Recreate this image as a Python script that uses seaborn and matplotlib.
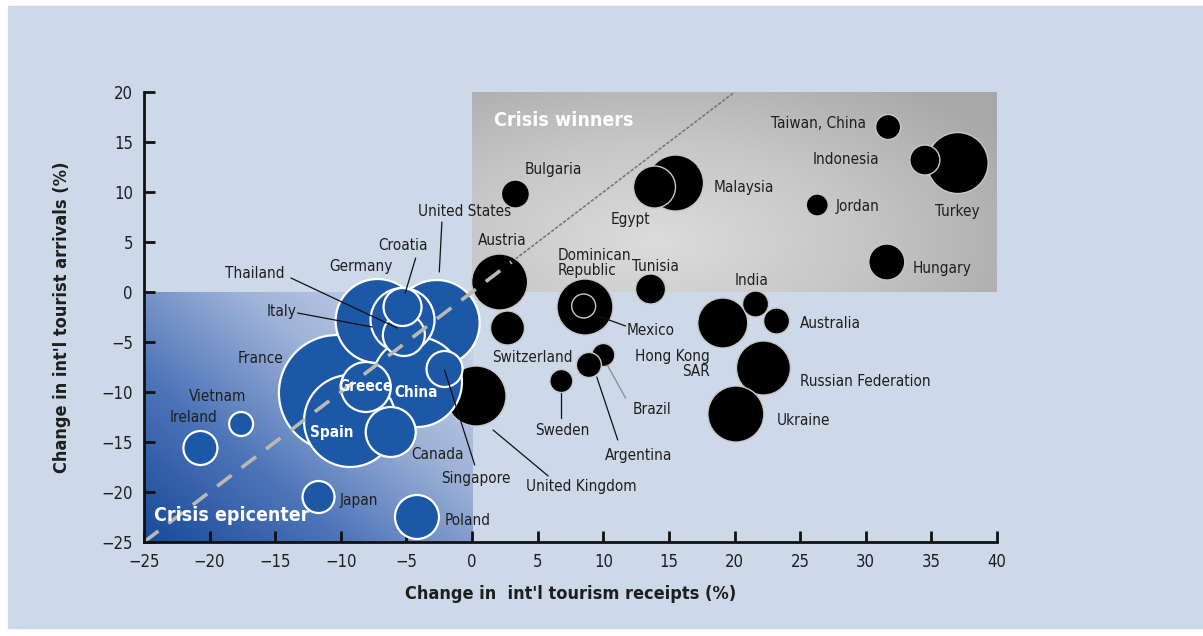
import numpy as np
import pandas as pd
import seaborn as sns
import matplotlib.pyplot as plt
from matplotlib import font_manager
from matplotlib.colors import LinearSegmentedColormap
from matplotlib.patches import Rectangle

# --- Dados ---
# países fora do epicentro (bolhas pretas), na ordem de desenho
black_names = ["Malaysia", "Egypt", "Turkey", "Indonesia", "Taiwan, China", "Bulgaria",
               "Jordan", "Hungary", "Austria", "Tunisia", "Switzerland",
               "Dominican Republic", "Mexico", "Hong Kong SAR", "India", "Australia",
               "Russian Federation", "Ukraine", "Brazil", "Argentina", "Sweden",
               "United Kingdom"]
black_receipts = [15.5, 13.9, 37.0, 34.5, 31.7, 3.3, 26.3, 31.6, 2.1, 13.6, 2.7,
                  8.6, 8.5, 19.1, 21.6, 23.2, 22.2, 20.1, 10.0, 8.9, 6.8, 0.3]
black_arrivals = [10.9, 10.5, 12.9, 13.2, 16.5, 9.8, 8.7, 3.0, 1.0, 0.3, -3.6,
                  -1.5, -1.4, -3.1, -1.2, -2.9, -7.6, -12.2, -6.3, -7.3, -8.9, -10.4]
black_bubble = [28, 21, 30.5, 15, 12.5, 14, 11, 18, 28, 15, 17,
                28, 12, 25, 13, 13, 27, 28, 11.5, 12.5, 11.5, 30]

# países do epicentro (bolhas azuis), na ordem de desenho
blue_names = ["France", "Germany", "United States", "China", "Spain", "Greece", "Canada",
              "Singapore", "Italy", "Thailand", "Croatia", "Vietnam", "Ireland",
              "Japan", "Poland"]
blue_receipts = [-10.3, -7.2, -2.7, -4.2, -9.3, -8.1, -6.2, -2.1, -5.3, -5.2, -5.3,
                 -17.6, -20.7, -11.7, -4.2]
blue_arrivals = [-10.1, -2.9, -3.1, -9.0, -12.9, -9.5, -14.0, -7.7, -2.8, -4.3, -1.5,
                 -13.2, -15.6, -20.5, -22.5]
blue_bubble = [58, 42, 43, 45, 46, 25, 25, 18, 32, 21, 19, 12, 17, 16, 22]

x_ticks = [-25, -20, -15, -10, -5, 0, 5, 10, 15, 20, 25, 30, 35, 40]
y_ticks = [-25, -20, -15, -10, -5, 0, 5, 10, 15, 20]

# --- Layout dos rótulos (x, y, alinhamento) ---
label_pos = {
    "Taiwan, China": (30.0, 16.9, "right"), "Indonesia": (31.0, 13.3, "right"),
    "Turkey": (37.0, 8.1, "center"), "Malaysia": (18.4, 10.5, "left"),
    "Egypt": (12.1, 7.3, "center"), "Bulgaria": (4.0, 12.3, "left"),
    "Jordan": (27.7, 8.6, "left"), "Hungary": (33.6, 2.4, "left"),
    "Austria": (2.3, 5.2, "center"), "Dominican\nRepublic": (6.5, 2.9, "left"),
    "Tunisia": (12.2, 2.6, "left"), "India": (21.3, 1.2, "center"),
    "Australia": (25.0, -3.1, "left"), "Mexico": (11.8, -3.8, "left"),
    "Hong Kong\nSAR": (18.1, -7.2, "right"), "Russian Federation": (25.0, -8.9, "left"),
    "Ukraine": (23.2, -12.8, "left"), "Switzerland": (4.6, -6.5, "center"),
    "Brazil": (12.2, -11.7, "left"), "Argentina": (12.7, -16.3, "center"),
    "Sweden": (6.9, -13.8, "center"), "United Kingdom": (8.3, -19.4, "center"),
    "Singapore": (0.3, -18.6, "center"), "Canada": (-2.6, -16.2, "center"),
    "Japan": (-10.1, -20.8, "left"), "Poland": (-2.1, -22.8, "left"),
    "Vietnam": (-19.4, -10.4, "center"), "Ireland": (-21.2, -12.5, "center"),
    "France": (-14.4, -6.6, "right"), "Italy": (-13.4, -1.9, "right"),
    "Thailand": (-14.3, 1.9, "right"), "Germany": (-8.5, 2.6, "center"),
    "Croatia": (-5.3, 4.7, "center"), "United States": (-0.6, 8.1, "center"),
}
white_labels = {"Greece": (-8.1, -9.4), "China": (-4.3, -10.0), "Spain": (-10.7, -14.0)}

leaders = [
    ((9.6, -2.4), (11.7, -3.4), "#111111"),
    ((10.3, -7.3), (11.7, -10.6), "#8a8a8a"),
    ((9.5, -8.5), (11.1, -14.8), "#111111"),
    ((6.8, -10.1), (6.8, -12.6), "#111111"),
    ((1.6, -13.8), (5.8, -18.4), "#111111"),
    ((-2.1, -7.8), (0.2, -17.3), "#111111"),
    ((-13.3, -2.1), (-7.6, -3.5), "#111111"),
    ((-13.8, 1.4), (-5.7, -3.6), "#111111"),
    ((-4.3, 3.4), (-5.1, -0.1), "#111111"),
    ((-2.3, 7.0), (-2.5, 2.0), "#111111"),
]

df_black = pd.DataFrame({"receipts": black_receipts, "arrivals": black_arrivals,
                         "area": np.array(black_bubble) ** 2})
df_blue = pd.DataFrame({"receipts": blue_receipts, "arrivals": blue_arrivals,
                        "area": np.array(blue_bubble) ** 2})

# --- Estilo: procura uma fonte estreita (o original usa uma condensada) ---
sns.set_style("ticks")
family, stretch = "Liberation Sans", "normal"
for f in font_manager.fontManager.ttflist:
    bad = any(w in f.name for w in ("Mono", "Serif", "CJK"))
    narrow = ("Narrow" in f.name or "Condensed" in f.name
              or str(f.stretch) in ("condensed", "semi-condensed", "extra-condensed"))
    if narrow and not bad:
        family, stretch = f.name, str(f.stretch)
        if "Sans" in f.name:
            break
plt.rcParams['font.family'] = [family, 'DejaVu Sans']
plt.rcParams['font.stretch'] = stretch
TXT = "#1e1e1e"

fig = plt.figure(figsize=(12.03, 6.36), dpi=100, facecolor="white")
fig.patches.append(Rectangle((8 / 1203, 8 / 636), 1 - 8 / 1203, 1 - 14 / 636,
                             transform=fig.transFigure, color="#cdd9e9", zorder=-10))
ax = fig.add_axes([0.1197, 0.1478, 0.7091, 0.7075])
ax.set_facecolor("none")

# gradiente azul (epicentro)
gx, gy = np.meshgrid(np.linspace(0, 1, 200), np.linspace(0, 1, 200))
t = np.clip(0.55 * gx + 0.5 * gy, 0, 1)
blue_cmap = LinearSegmentedColormap.from_list("ep", ["#1a4a98", "#4d74b8", "#9fb3d8", "#cdd7ea"])
ax.imshow(t, cmap=blue_cmap, extent=(-25, 0, -25, 0), origin="lower",
          aspect="auto", zorder=0, interpolation="bilinear")

# gradiente cinza (vencedores)
gx2, gy2 = np.meshgrid(np.linspace(0, 40, 300), np.linspace(0, 20, 150))
d = np.sqrt(((gx2 - 14) / 26) ** 2 + ((gy2 - 5) / 17) ** 2)
gray_cmap = LinearSegmentedColormap.from_list("wn", ["#dcdcdc", "#c6c6c6", "#a8a8a8"])
ax.imshow(np.clip(d / 1.2, 0, 1), cmap=gray_cmap, extent=(0, 40, 0, 20), origin="lower",
          aspect="auto", zorder=0, interpolation="bilinear")
ax.set_xlim(-25, 40)
ax.set_ylim(-25, 20)

# bolhas: área proporcional, r(px) -> pontos^2
vmax = 60 ** 2
smax = (2 * 60 * 0.72) ** 2
sns.scatterplot(data=df_black, x="receipts", y="arrivals", size="area",
                sizes=(0, smax), size_norm=(0, vmax), color="black",
                edgecolor="#c8c8c8", linewidth=1.0, legend=False, ax=ax, zorder=3,
                clip_on=False)
sns.scatterplot(data=df_blue, x="receipts", y="arrivals", size="area",
                sizes=(0, smax), size_norm=(0, vmax), color="#1c58a5",
                edgecolor="white", linewidth=1.6, legend=False, ax=ax, zorder=4,
                clip_on=False)

# diagonal
ax.plot([-25, 3], [-25, 3], color="#b9b9b2", lw=2.6, dashes=(5, 3.5), zorder=5)
ax.plot([3, 20], [3, 20], color="#777777", lw=1.2, dashes=(2, 1), zorder=1)

# linhas de chamada
for (x0, y0), (x1, y1), c in leaders:
    ax.plot([x0, x1], [y0, y1], color=c, lw=0.9, zorder=6)

for name, (x, y, ha) in label_pos.items():
    ax.text(x, y, name, ha=ha, va="center", fontsize=11, color=TXT, zorder=7,
            linespacing=1.0)
for name, (x, y) in white_labels.items():
    ax.text(x, y, name, ha="center", va="center", fontsize=11, color="white",
            fontweight="bold", zorder=7)

ax.text(1.7, 17.2, "Crisis winners", color="white", fontsize=14, fontweight="bold",
        ha="left", va="center", zorder=7)
ax.text(-24.2, -22.3, "Crisis epicenter", color="white", fontsize=14, fontweight="bold",
        ha="left", va="center", zorder=7)

# eixos
for s in ["top", "right"]:
    ax.spines[s].set_visible(False)
for s in ["left", "bottom"]:
    ax.spines[s].set_linewidth(2)
    ax.spines[s].set_color("#111111")
    ax.spines[s].set_zorder(8)
ax.set_xticks(x_ticks)
ax.set_yticks(y_ticks)
ax.tick_params(direction="in", length=8, width=2, color="#111111",
               labelsize=12, labelcolor=TXT, pad=8)
ax.set_xlabel("Change in  int'l tourism receipts (%)", fontsize=13, fontweight="bold",
              color=TXT, labelpad=10)
ax.set_ylabel("Change in int'l tourist arrivals (%)", fontsize=13, fontweight="bold",
              color=TXT, labelpad=22)

fig.savefig("out.png", dpi=100, facecolor=fig.get_facecolor())
